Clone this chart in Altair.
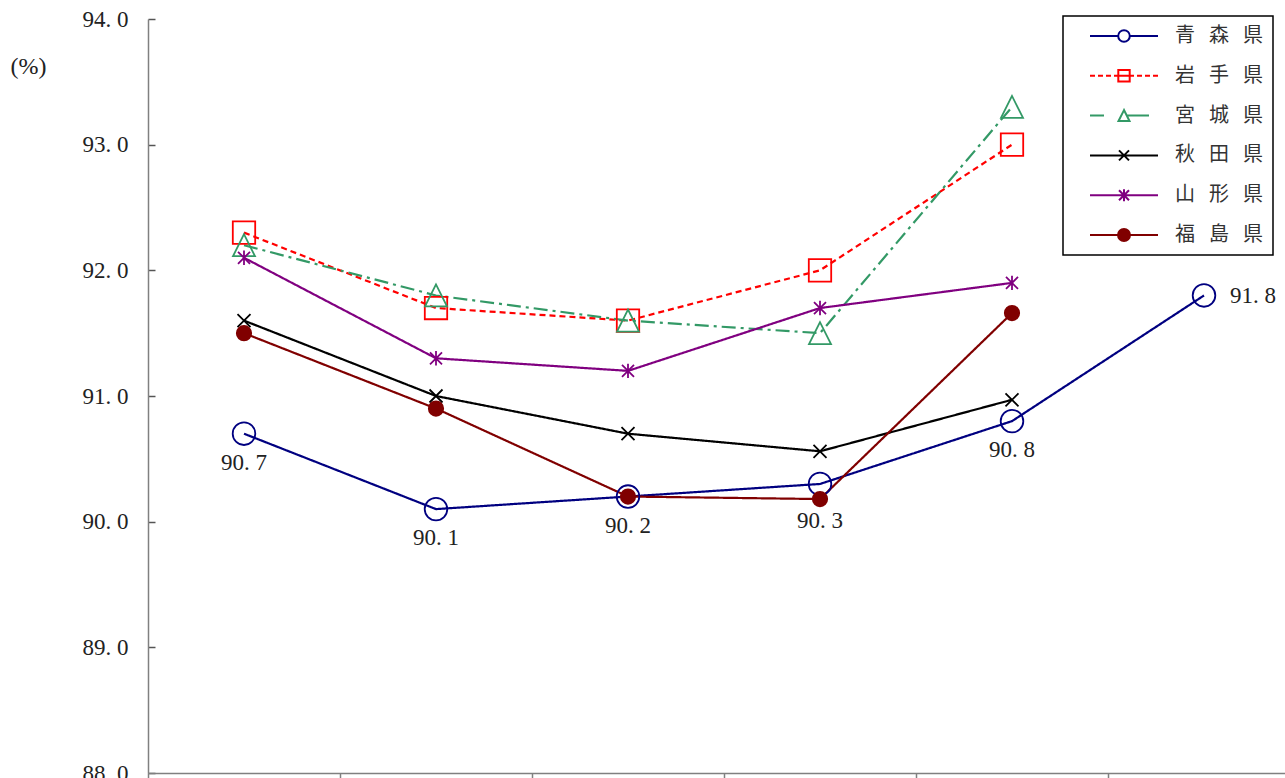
import altair as alt
import pandas as pd

# x-axis category labels lie below the visible area of the reference (not shown)
categories = ["1", "2", "3", "4", "5", "6"]
series = ["青森県", "岩手県", "宮城県", "秋田県", "山形県", "福島県"]
aomori = [90.7, 90.1, 90.2, 90.3, 90.8, 91.8]
iwate = [92.3, 91.7, 91.6, 92.0, 93.0, None]
miyagi = [92.2, 91.8, 91.6, 91.5, 93.3, None]
akita = [91.6, 91.0, 90.7, 90.56, 90.97, None]
yamagata = [92.1, 91.3, 91.2, 91.7, 91.9, None]
fukushima = [91.5, 90.9, 90.2, 90.18, 91.66, None]
y_ticks = [88, 89, 90, 91, 92, 93, 94]

colors = ["#000080", "#FF0000", "#339966", "#000000", "#800080", "#800000"]
dashes = [[1, 0], [6, 4], [14, 5, 3, 5], [1, 0], [1, 0], [1, 0]]

rows = []
for name, vals in zip(series, [aomori, iwate, miyagi, akita, yamagata, fukushima]):
    for c, v in zip(categories, vals):
        if v is not None:
            rows.append({"series": name, "cat": c, "value": v})
df = pd.DataFrame(rows)

SERIF = "Liberation Serif"

x_enc = alt.X(
    "cat:N", sort=categories,
    scale=alt.Scale(type="band", domain=categories, range=[0, 1152], paddingInner=0, paddingOuter=0),
    axis=alt.Axis(title=None, domainColor="#808080", domainWidth=1.5, tickColor="#808080",
                  tickWidth=1.5, tickSize=8, tickBand="extent", labels=False, grid=False),
)
y_enc = alt.Y(
    "value:Q",
    scale=alt.Scale(domain=[88, 94], zero=False, nice=False),
    axis=alt.Axis(values=y_ticks, title="(%)", titleAngle=0, titleX=-138, titleY=47,
                  titleAlign="left", titleBaseline="middle", titleFont=SERIF,
                  titleFontSize=24, titleFontWeight="normal", titleColor="#222",
                  labelExpr="replace(format(datum.value, '.1f'), '.', '. ')",
                  labelFont=SERIF, labelFontSize=23, labelColor="#222", labelPadding=20,
                  ticks=False, tickSize=0, domainColor="#808080", domainWidth=1.5,
                  grid=True, gridColor="#555555", gridDash=[7, 3000], gridWidth=1.5),
)

lines = alt.Chart(df).mark_line(strokeWidth=2.2).encode(
    x=x_enc, y=y_enc,
    color=alt.Color("series:N", scale=alt.Scale(domain=series, range=colors), legend=None),
    strokeDash=alt.StrokeDash("series:N", scale=alt.Scale(domain=series, range=dashes), legend=None),
)

# marker outlines in pixel units (symbol size 4 -> 1 path unit = 1 px)
plot_shapes = [
    "M11.3,0A11.3,11.3,0,1,1,-11.3,0A11.3,11.3,0,1,1,11.3,0Z",
    "M-11.2,-11.2L11.2,-11.2L11.2,11.2L-11.2,11.2Z",
    "M0,-11L-11,11L11,11Z",
    "M-6.5,-6.5L6.5,6.5M-6.5,6.5L6.5,-6.5",
    "M-6,-6L6,6M-6,6L6,-6M0,-7.2L0,7.2",
    "M7.2,0A7.2,7.2,0,1,1,-7.2,0A7.2,7.2,0,1,1,7.2,0Z",
]
plot_fills = ["transparent", "transparent", "transparent", "transparent", "transparent", "#800000"]

points = alt.Chart(df).mark_point(opacity=1, strokeWidth=1.8, size=4).encode(
    x=x_enc, y=y_enc,
    shape=alt.Shape("series:N", scale=alt.Scale(domain=series, range=plot_shapes), legend=None),
    stroke=alt.Stroke("series:N", scale=alt.Scale(domain=series, range=colors), legend=None),
    fill=alt.Fill("series:N", scale=alt.Scale(domain=series, range=plot_fills), legend=None),
)

legend_shapes = [
    "M-4.857,0L-0.83,0M0.83,0L4.857,0M0.83,0A0.83,0.83,0,1,1,-0.83,0A0.83,0.83,0,1,1,0.83,0Z",
    "M-4.857,0L-4.143,0M-3.714,0L-3,0M-2.571,0L-1.857,0M-1.429,0L1.429,0M1.857,0L2.571,0M3,0L3.714,0M4.143,0L4.857,0M-0.814,-0.814L0.814,-0.814L0.814,0.814L-0.814,0.814Z",
    "M-4.857,0L-2.857,0M0.5,0L3.571,0M0,-0.786L-0.786,0.786L0.786,0.786Z",
    "M-4.857,0L4.857,0M-0.714,-0.714L0.714,0.714M-0.714,0.714L0.714,-0.714",
    "M-4.857,0L4.857,0M-0.714,-0.714L0.714,0.714M-0.714,0.714L0.714,-0.714M0,-0.857L0,0.857",
    "M-4.857,0L4.857,0M0.857,0A0.857,0.857,0,1,1,-0.857,0A0.857,0.857,0,1,1,0.857,0Z",
]

leg = alt.Legend(
    title=" ", titleOrient="left", titleFontSize=1, titlePadding=17,
    orient="none", legendX=915, legendY=-3, padding=10,
    strokeColor="black", fillColor="white",
    symbolSize=196, symbolStrokeWidth=2, symbolOffset=24, labelOffset=41,
    labelFont="Noto Sans CJK JP", labelFontSize=20, labelColor="#333333",
    rowPadding=19.8, labelExpr="join(split(datum.label, ''), '\u2002\u2009')",
)

legend_layer = alt.Chart(df).transform_filter("false").mark_point(opacity=1, size=196, strokeWidth=2).encode(
    x=x_enc, y=y_enc,
    shape=alt.Shape("series:N", scale=alt.Scale(domain=series, range=legend_shapes), legend=leg, title=" "),
    stroke=alt.Stroke("series:N", scale=alt.Scale(domain=series, range=colors), legend=leg, title=" "),
    fill=alt.Fill("series:N", scale=alt.Scale(domain=series, range=plot_fills), legend=leg, title=" "),
)

label_base = alt.Chart(df).transform_filter(alt.datum.series == "青森県").transform_calculate(
    label="replace(format(datum.value, '.1f'), '.', '. ')"
)
labels_below = label_base.transform_filter(
    alt.FieldOneOfPredicate(field="cat", oneOf=["1", "2", "3", "5"])
).mark_text(font=SERIF, fontSize=23, color="#222", dy=29, baseline="middle").encode(
    x=x_enc, y=y_enc, text="label:N")
labels_below2 = label_base.transform_filter(alt.datum.cat == "4").mark_text(
    font=SERIF, fontSize=23, color="#222", dy=37, baseline="middle").encode(
    x=x_enc, y=y_enc, text="label:N")
labels_right = label_base.transform_filter(alt.datum.cat == "6").mark_text(
    font=SERIF, fontSize=23, color="#222", dx=26, dy=1, align="left", baseline="middle").encode(
    x=x_enc, y=y_enc, text="label:N")

chart = alt.layer(lines, points, legend_layer, labels_below, labels_below2, labels_right).resolve_scale(
    shape="independent", stroke="independent", fill="independent", color="independent",
    strokeDash="independent",
).properties(
    width=1137, height=754,
    autosize=alt.AutoSizeParams(type="none"),
    padding={"left": 148, "top": 19, "right": 0, "bottom": 5},
    background="white",
).configure_view(stroke=None).configure_legend(strokeWidth=1.5)

chart.save("out.html", embed_options={"renderer": "svg", "actions": False})
